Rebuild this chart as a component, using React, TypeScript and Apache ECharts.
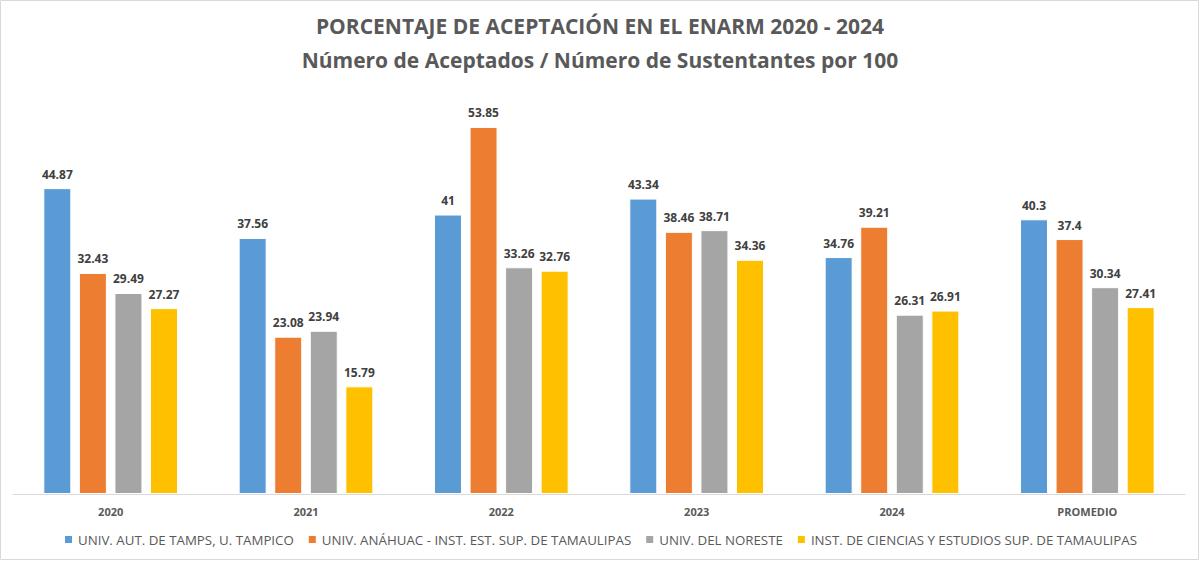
import React, { useEffect, useRef } from "react";
import * as echarts from "echarts";

const categories = ["2020", "2021", "2022", "2023", "2024", "PROMEDIO"];
const seriesNames = [
  "UNIV. AUT. DE TAMPS, U. TAMPICO",
  "UNIV. ANÁHUAC - INST. EST. SUP. DE TAMAULIPAS",
  "UNIV. DEL NORESTE",
  "INST. DE CIENCIAS Y ESTUDIOS SUP. DE TAMAULIPAS",
];
const uatValues = [44.87, 37.56, 41, 43.34, 34.76, 40.3];
const anahuacValues = [32.43, 23.08, 53.85, 38.46, 39.21, 37.4];
const norestValues = [29.49, 23.94, 33.26, 38.71, 26.31, 30.34];
const icestValues = [27.27, 15.79, 32.76, 34.36, 26.91, 27.41];
const colors = ["#5B9BD5", "#ED7D31", "#A5A5A5", "#FFC000"];

const FONT = "'Open Sans', 'Noto Sans', sans-serif";

export default function App() {
  const ref = useRef<HTMLDivElement>(null);
  useEffect(() => {
    if (!ref.current) return;
    const chart = echarts.init(ref.current, null, { renderer: "svg" });
    const data = [uatValues, anahuacValues, norestValues, icestValues];
    chart.setOption({
      animation: false,
      backgroundColor: "#ffffff",
      title: {
        text: "PORCENTAJE DE ACEPTACIÓN EN EL ENARM 2020 - 2024\nNúmero de Aceptados / Número de Sustentantes por 100",
        left: "center",
        top: 4,
        textStyle: {
          fontFamily: FONT,
          fontWeight: "bold",
          fontSize: 21,
          color: "#595959",
          lineHeight: 34,
        },
      },
      graphic: [
        {
          type: "rect",
          shape: { x: 0.5, y: 0.5, width: 1198, height: 559 },
          style: { fill: "none", stroke: "#D9D9D9", lineWidth: 1 },
          silent: true,
        },
      ],
      legend: {
        bottom: 10,
        left: "center",
        itemWidth: 9,
        itemHeight: 9,
        itemGap: 13,
        icon: "rect",
        textStyle: { fontFamily: FONT, fontSize: 13.3, color: "#595959" },
        data: seriesNames,
      },
      grid: { left: 13, right: 15, top: 85, bottom: 67 },
      xAxis: {
        type: "category",
        data: categories,
        axisLine: { lineStyle: { color: "#D9D9D9" } },
        axisTick: { show: false },
        axisLabel: {
          fontFamily: FONT,
          fontWeight: "bold",
          fontSize: 11,
          color: "#595959",
          margin: 12,
        },
      },
      yAxis: {
        type: "value",
        min: 0,
        max: 60,
        show: false,
        splitLine: { show: false },
      },
      series: data.map((vals, i) => ({
        name: seriesNames[i],
        type: "bar",
        data: vals,
        barWidth: 28,
        barGap: "27%",
        itemStyle: { color: colors[i], borderColor: "#ffffff", borderWidth: 1 },
        label: {
          show: true,
          position: "top",
          distance: 8,
          fontFamily: FONT,
          fontWeight: "bold",
          fontSize: 12,
          color: "#404040",
        },
      })),
    });
    return () => chart.dispose();
  }, []);
  return (
    <div
      ref={ref}
      style={{ position: "fixed", left: 0, top: 0, width: 1200, height: 561 }}
    />
  );
}
